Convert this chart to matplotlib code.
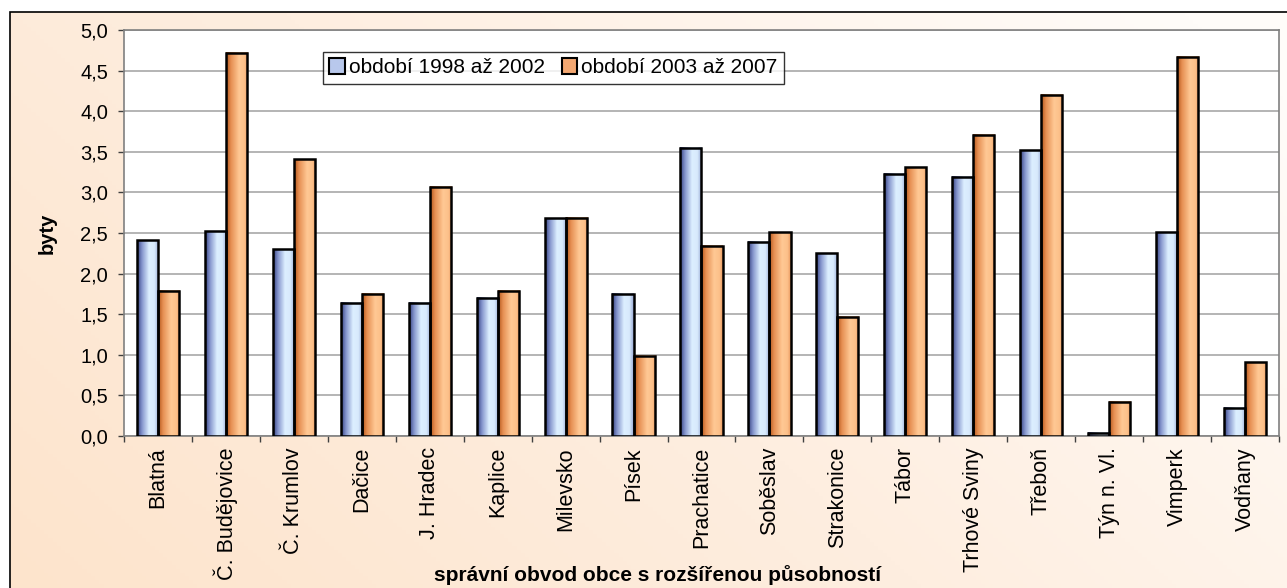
# plot.py
# bar chart of byty per správní obvod, two periods side by side

import matplotlib
matplotlib.use("Agg")
import matplotlib.pyplot as plt
import numpy as np
from matplotlib.colors import LinearSegmentedColormap
from matplotlib.patches import Rectangle
from matplotlib.ticker import FuncFormatter, MultipleLocator

# data
obvody = ["Blatná", "Č. Budějovice", "Č. Krumlov", "Dačice", "J. Hradec", "Kaplice",
          "Milevsko", "Písek", "Prachatice", "Soběslav", "Strakonice", "Tábor",
          "Trhové Sviny", "Třeboň", "Týn n. Vl.", "Vimperk", "Vodňany"]
obdobi_1998_2002 = [2.41, 2.52, 2.30, 1.64, 1.64, 1.70, 2.68, 1.75, 3.55, 2.39, 2.25,
                    3.23, 3.19, 3.52, 0.04, 2.51, 0.35]
obdobi_2003_2007 = [1.79, 4.72, 3.41, 1.75, 3.07, 1.79, 2.69, 0.99, 2.34, 2.51, 1.47,
                    3.31, 3.71, 4.20, 0.42, 4.67, 0.91]
series_labels = ["období 1998 až 2002", "období 2003 až 2007"]

plt.rcParams['font.family'] = ['Liberation Sans', 'DejaVu Sans']

W, H = 1287, 588
fig = plt.figure(figsize=(W / 100, H / 100), dpi=100)

# background gradient inside the outer frame
bx0, by_top = 10, 12
bg = fig.add_axes([bx0 / W, 0, 1 - bx0 / W, 1 - by_top / H], zorder=-10)
gx, gy = np.meshgrid(np.linspace(0, 1, 300), np.linspace(0, 1, 150))
t = np.clip(0.7 * gx + 0.35 * gy, 0, 1)  # gy=1 is top (origin lower)
bg_cmap = LinearSegmentedColormap.from_list("bg", ["#fde4cc", "#feeee0", "#fffcf9"])
bg.imshow(t, cmap=bg_cmap, origin="lower", aspect="auto", extent=[0, 1, 0, 1])
bg.set_xlim(0, 1)
bg.set_ylim(0, 1)
bg.axis("off")
fig.patches.append(Rectangle((bx0 / W, -0.01), 1.0, 1 - by_top / H + 0.01,
                             transform=fig.transFigure, fill=False,
                             edgecolor="black", linewidth=1.2, zorder=-5))

# plot area
ax = fig.add_axes([124 / W, 1 - 436 / H, (1279 - 124) / W, (436 - 30) / H])
ax.set_facecolor("white")
for s in ax.spines.values():
    s.set_color("#808080")
    s.set_linewidth(1.2)

x = np.arange(len(obvody))
bw = 0.31
bars1 = ax.bar(x - bw / 2, obdobi_1998_2002, bw, facecolor="none", edgecolor="black",
               linewidth=1.8, zorder=4)
bars2 = ax.bar(x + bw / 2, obdobi_2003_2007, bw, facecolor="none", edgecolor="black",
               linewidth=1.8, zorder=4)

blue_cmap = LinearSegmentedColormap.from_list(
    "b", [(0, "#34407f"), (0.22, "#8494cc"), (0.55, "#dcefff"), (0.8, "#d8eafc"), (1, "#98a8d4")])
orange_cmap = LinearSegmentedColormap.from_list(
    "o", [(0, "#b05418"), (0.22, "#e68f52"), (0.6, "#ffc894"), (0.85, "#fcc08a"), (1, "#e89860")])
grad = np.linspace(0, 1, 64).reshape(1, -1)
for bars, cm in [(bars1, blue_cmap), (bars2, orange_cmap)]:
    for b in bars:
        x0 = b.get_x()
        ax.imshow(grad, cmap=cm, aspect="auto", zorder=3,
                  extent=[x0, x0 + b.get_width(), 0, b.get_height()])

ax.set_xlim(-0.5, len(obvody) - 0.5)
ax.set_ylim(0, 5)
ax.yaxis.set_major_locator(MultipleLocator(0.5))
ax.yaxis.set_major_formatter(FuncFormatter(lambda v, p: ("%.1f" % v).replace(".", ",")))
ax.grid(axis="y", color="#a8a8a8", linewidth=1.2, zorder=1)
ax.set_axisbelow(True)
ax.tick_params(axis="y", length=4.5, width=1, color="#404040", pad=7, labelsize=14.5)

ax.set_xticks(x)
ax.set_xticklabels(obvody, rotation=90, fontsize=15.5, va="top", ha="center")
ax.set_xticks(np.arange(len(obvody) + 1) - 0.5, minor=True)
ax.tick_params(axis="x", which="major", length=0, pad=8)
ax.tick_params(axis="x", which="minor", length=4.5, width=1, color="#404040")

ax.set_ylabel("byty", fontsize=14.5, fontweight="bold", labelpad=17)
fig.text(658 / W, 1 - 575 / H, "správní obvod obce s rozšířenou působností",
         ha="center", va="center", fontsize=15, fontweight="bold")

# legend
handles = [Rectangle((0, 0), 1, 1, facecolor="#b8c8ec", edgecolor="black", linewidth=1.5),
           Rectangle((0, 0), 1, 1, facecolor="#f4a872", edgecolor="black", linewidth=1.5)]
leg = ax.legend(handles, series_labels, loc="upper left",
                bbox_to_anchor=(323 / W, 1 - 52 / H), bbox_transform=fig.transFigure,
                ncol=2, fontsize=15, frameon=True, fancybox=False, shadow=False,
                handlelength=0.75, handleheight=0.75, handletextpad=0.2,
                columnspacing=0.8, borderpad=0.3, borderaxespad=0)
leg.get_frame().set_edgecolor("black")
leg.get_frame().set_linewidth(1.0)
leg.set_zorder(10)

fig.savefig("out.png", dpi=100)
